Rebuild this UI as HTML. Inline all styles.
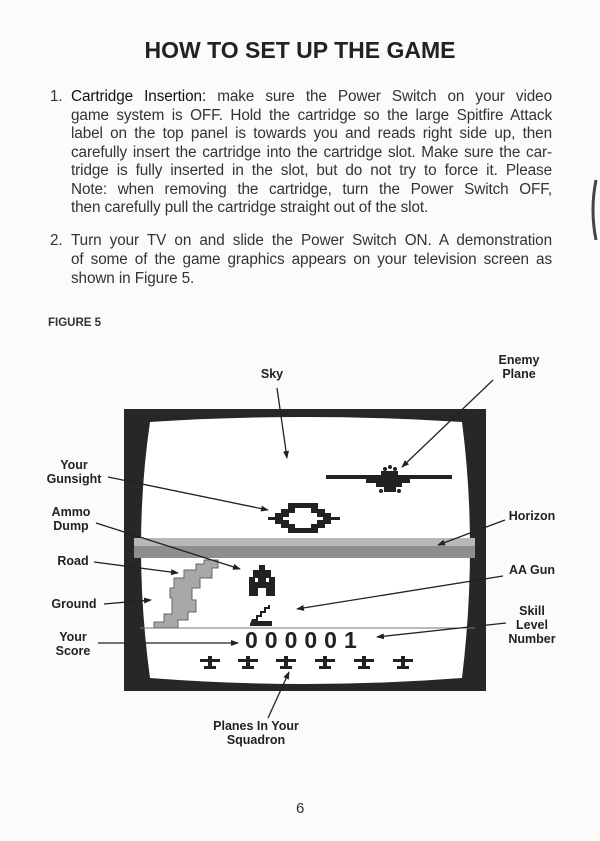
<!DOCTYPE html>
<html><head><meta charset="utf-8"><style>
body{margin:0;width:600px;height:841px;background:#fbfbf9;position:relative;overflow:hidden;font-family:"Liberation Sans",sans-serif;color:#333}
.t{position:absolute;font-size:15.3px;letter-spacing:-0.1px;white-space:nowrap}
.j{width:481px;text-align:justify;text-align-last:justify}
.l{position:absolute;font-weight:bold;font-size:12.5px;text-align:center;line-height:14px;color:#222}
</style></head><body>
<div style="position:absolute;left:0;width:600px;top:37px;text-align:center;font-weight:bold;font-size:23px;color:#222">HOW TO SET UP THE GAME</div>
<div class="t" style="left:50px;top:88px">1.</div>
<div class="t j" style="left:71px;top:88px"><b style="font-weight:normal;color:#111">Cartridge Insertion:</b> make sure the Power Switch on your video</div>
<div class="t j" style="left:71px;top:107px">game system is OFF. Hold the cartridge so the large Spitfire Attack</div>
<div class="t j" style="left:71px;top:125px">label on the top panel is towards you and reads right side up, then</div>
<div class="t j" style="left:71px;top:144px">carefully insert the cartridge into the cartridge slot. Make sure the car-</div>
<div class="t j" style="left:71px;top:162px">tridge is fully inserted in the slot, but do not try to force it. Please</div>
<div class="t j" style="left:71px;top:181px">Note: when removing the cartridge, turn the Power Switch OFF,</div>
<div class="t" style="left:71px;top:199px">then carefully pull the cartridge straight out of the slot.</div>
<div class="t" style="left:50px;top:232px">2.</div>
<div class="t j" style="left:71px;top:232px">Turn your TV on and slide the Power Switch ON. A demonstration</div>
<div class="t j" style="left:71px;top:251px">of some of the game graphics appears on your television screen as</div>
<div class="t" style="left:71px;top:270px">shown in Figure 5.</div>
<div style="position:absolute;left:48px;top:317px;font-weight:bold;font-size:11.5px">FIGURE 5</div>
<div class="l" style="left:252px;top:367px;width:40px">Sky</div>
<div class="l" style="left:494px;top:353px;width:50px">Enemy<br>Plane</div>
<div class="l" style="left:40px;top:458px;width:68px">Your<br>Gunsight</div>
<div class="l" style="left:46px;top:505px;width:50px">Ammo<br>Dump</div>
<div class="l" style="left:48px;top:554px;width:50px">Road</div>
<div class="l" style="left:44px;top:597px;width:60px">Ground</div>
<div class="l" style="left:48px;top:630px;width:50px">Your<br>Score</div>
<div class="l" style="left:502px;top:509px;width:60px">Horizon</div>
<div class="l" style="left:502px;top:563px;width:60px">AA Gun</div>
<div class="l" style="left:502px;top:604px;width:60px">Skill<br>Level<br>Number</div>
<div class="l" style="left:196px;top:719px;width:120px">Planes In Your<br>Squadron</div>
<div style="position:absolute;left:296px;top:800px;font-size:15px">6</div>
<svg style="position:absolute;left:0;top:0" width="600" height="841">
<defs><marker id="a" markerWidth="8" markerHeight="6" refX="7" refY="3" orient="auto" markerUnits="userSpaceOnUse"><path d="M0,0 L8,3 L0,6z" fill="#222"/></marker></defs>
<path d="M596,180 Q590,210 596,240" stroke="#444" stroke-width="3" fill="none"/>
<rect x="124" y="409" width="362" height="282" fill="#272727"/>
<path d="M150,422 Q305,412 462,422 Q478,545 462,678 Q305,690 150,678 Q132,545 150,422z" fill="#fff"/>
<rect x="134" y="538" width="341" height="8" fill="#b8b8b8"/>
<rect x="134" y="546" width="341" height="12" fill="#8e8e8e"/>
<line x1="140" y1="628" x2="475" y2="628" stroke="#777" stroke-width="1"/>
<path d="M204,560 L218,560 L218,568 L212,568 L212,578 L200,578 L200,588 L192,588 L192,600 L196,600 L196,612 L188,612 L188,620 L178,620 L178,628 L154,628 L154,622 L164,622 L164,614 L172,614 L172,598 L170,598 L170,588 L174,588 L174,578 L184,578 L184,570 L196,570 L196,564 L204,564z" fill="#a8a8a8" stroke="#666" stroke-width="1"/>
<path d="M268,517 L275,517 L275,513 L281,513 L281,509 L288,509 L288,503 L318,503 L318,509 L325,509 L325,513 L331,513 L331,517 L340,517 L340,520 L331,520 L331,524 L325,524 L325,528 L318,528 L318,533 L288,533 L288,528 L281,528 L281,524 L275,524 L275,520 L268,520z M289,513 L289,517 L283,517 L283,520 L289,520 L289,524 L295,524 L295,528 L311,528 L311,524 L317,524 L317,520 L323,520 L323,517 L317,517 L317,513 L311,513 L311,508 L295,508 L295,513z" fill="#222" fill-rule="evenodd"/>
<path d="M326,475 L452,475 L452,479 L410,479 L410,483 L402,483 L402,487 L396,487 L396,492 L384,492 L384,487 L376,487 L376,483 L366,483 L366,479 L326,479z M381,471 L398,471 L398,475 L381,475z" fill="#222"/>
<circle cx="385" cy="469" r="2" fill="#222"/><circle cx="395" cy="469" r="2" fill="#222"/><circle cx="390" cy="467" r="2" fill="#222"/>
<circle cx="381" cy="491" r="2" fill="#222"/><circle cx="399" cy="491" r="2" fill="#222"/>
<path d="M259,565 L265,565 L265,570 L271,570 L271,577 L275,577 L275,596 L266,596 L266,588 L258,588 L258,596 L249,596 L249,577 L253,577 L253,570 L259,570z M255,578 L258,578 L258,582 L255,582z M266,578 L269,578 L269,582 L266,582z" fill="#222" fill-rule="evenodd"/>
<path d="M250,624 L252,619 L256,619 L256,615 L260,615 L260,611 L264,611 L264,607 L268,607 L268,605 L270,605 L270,609 L266,609 L266,613 L262,613 L262,617 L258,617 L258,621 L272,621 L272,626 L250,626z" fill="#222"/>
<g font-family="Liberation Sans,sans-serif" font-size="23" font-weight="bold" fill="#222" letter-spacing="7"><text x="245" y="648">000001</text></g>
<g fill="#222">
<path id="p" d="M200,659 L208,659 L208,656 L212,656 L212,659 L220,659 L220,662 L212,662 L212,666 L216,666 L216,669 L204,669 L204,666 L208,666 L208,662 L200,662z"/>
<use href="#p" x="38"/><use href="#p" x="76"/><use href="#p" x="115"/><use href="#p" x="154"/><use href="#p" x="193"/>
</g>
<g stroke="#222" stroke-width="1.3" fill="none" marker-end="url(#a)">
<line x1="277" y1="388" x2="287" y2="458"/>
<line x1="493" y1="380" x2="402" y2="467"/>
<line x1="108" y1="477" x2="268" y2="510"/>
<line x1="96" y1="523" x2="240" y2="569"/>
<line x1="94" y1="562" x2="178" y2="573"/>
<line x1="104" y1="604" x2="151" y2="600"/>
<line x1="98" y1="643" x2="238" y2="643"/>
<line x1="505" y1="520" x2="438" y2="545"/>
<line x1="503" y1="576" x2="297" y2="609"/>
<line x1="506" y1="623" x2="377" y2="637"/>
<line x1="268" y1="718" x2="289" y2="672"/>
</g>
</svg>
</body></html>
